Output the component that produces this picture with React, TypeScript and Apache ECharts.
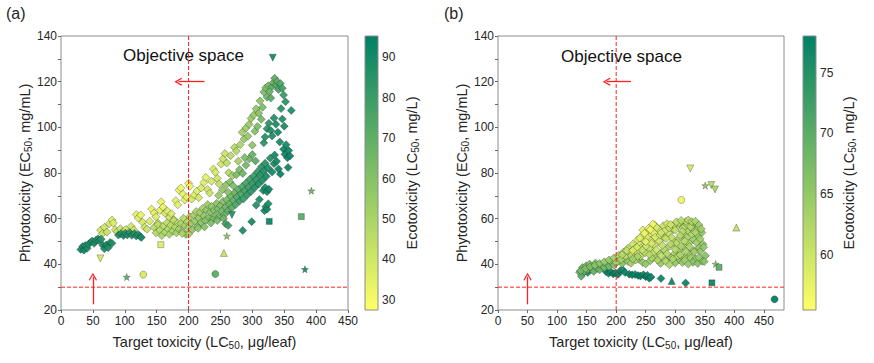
import React, { useEffect, useRef } from 'react';
import * as echarts from 'echarts';

// ---------- Panel (a) data: [target LC50, phyto EC50, eco LC50] ----------
const A_DARK_LEFT: number[][] = [
  [31,46.5,89],[34,47.8,90],[36,46.2,91],[38,48.3,88],[41,47,90],[43,48.8,87],[46,49.6,89],[49,50.2,88],
  [52,49.2,90],[55,50.6,87],[58,51.2,88],[60,50.3,89],[63,51,86],[66,48.2,90],[68,46.8,89],[71,48.5,91],
  [74,47.3,88],[77,49.6,90],[80,49.2,87],
];
const A_DARK_BAND: number[][] = [
  [90,52.8,88],[94,53.4,87],[98,52.6,89],[101,53.6,86],[104,52.9,88],[108,53.8,87],[111,52.7,89],
  [115,53.5,86],[118,52.4,88],[121,53.1,87],[124,52.2,89],[126,51.8,90],
];
const A_YELLOW_LEFT: number[][] = [
  [62,55,40],[65,53.5,42],[68,56.2,41],[72,54.1,43],[76,57.8,38],[80,59.4,36],[82,58.1,37],[85,55.2,40],
  [88,54.3,42],[93,55.6,41],[97,54.2,43],[102,55.3,40],[106,53.9,44],[110,56.6,39],[114,55.1,42],
  [118,61.8,35],[121,60.3,36],[125,61.6,34],[128,58.4,38],[131,56.2,41],[135,55.4,42],[139,58.9,37],
  [142,64.2,34],[146,62.5,35],[149,60.8,37],[152,58.1,40],[155,63.6,35],[157,67.4,33],[160,65.1,35],
  [163,62.4,38],[167,63.3,37],[170,60.5,40],[173,62.2,38],[177,59.6,41],[180,67.9,35],[183,66.1,36],
  [185,72.5,33],[188,73.4,32],[191,70.8,34],[194,68.2,36],[197,69.5,35],[200,75.5,32],[202,74.2,33],
];
const A_UPPER_BRANCH: number[][] = [
  [205,68.6,38],[209,70.4,37],[213,72.1,36],[216,69.2,40],[220,73.4,37],[224,75.8,36],[227,78.1,35],
  [230,72.8,40],[233,71.2,42],[236,76.4,39],[239,81.7,37],[242,80.3,38],[245,77.6,41],[248,75.2,44],
  [251,83.9,40],[254,86.2,41],[257,88.5,42],[260,84.4,45],[263,80.1,48],[266,87.6,46],[269,78.9,50],
  [272,91.2,47],[275,89.6,48],[278,85.2,51],[281,92.4,50],
];
const A_LIGHT_GREEN: number[][] = [
  [284,97.8,52],[287,94.9,54],[290,99.7,53],[293,96.1,56],[295,101.3,55],[298,103.9,54],[300,92.2,58],
  [302,105.4,56],[304,98.3,60],[306,108.1,57],[308,100.4,62],[310,106.2,60],[312,111.6,58],[314,103.5,64],
  [316,108.8,63],[247,70.2,55],[253,72.6,57],[259,74.8,58],[265,76.1,60],[270,74.4,62],[262,71.6,60],
  [275,79.2,62],[280,81.5,63],[285,79.8,66],[290,83.4,65],[295,86.2,66],[288,86.8,62],[300,88.1,68],
  [305,85.3,72],
];
const A_TOP: number[][] = [
  [318,115.5,62],[321,117.3,63],[323,113.2,66],[325,118.2,64],[327,115.6,68],[329,112.8,72],[331,117.9,70],
  [333,119.6,68],[335,121.5,70],[337,118.4,74],[339,120.1,72],[341,116.6,76],[344,119.2,74],[347,117.1,78],
  [349,114.2,80],
];
const A_DARK_RIGHT: number[][] = [
  [318,93.2,84],[320,95.8,86],[323,99.4,85],[326,101.8,84],[329,98.6,88],[331,96.2,87],[334,104.1,86],
  [337,101.3,88],[340,97.8,90],[343,93.6,89],[345,108.2,85],[347,103.6,87],[349,90.4,91],[351,88.2,92],
  [353,92.4,90],[355,86.7,93],[357,89.8,91],[359,87.5,92],[361,107.4,88],[350,100.5,89],[352,111.2,84],
  [356,82.4,92],[344,79.6,93],[341,81.8,92],[338,85.1,91],[335,87.9,90],
];
const A_MAIN_BAND: number[][] = [
  [146,56.2,46],[149,53.8,48],[152,57.4,45],[155,54.9,47],[158,52.6,50],[161,56.8,46],[163,54.1,49],
  [166,58.2,45],[168,55.5,48],[170,53.2,51],[172,57.1,47],[175,54.6,50],[177,59.2,45],[179,56.3,49],
  [181,53.8,52],[183,58.1,48],[185,55.4,51],[188,57.9,49],[190,54.4,53],[192,60.2,47],[194,56.9,51],
  [196,53.1,55],[198,58.6,50],[200,56.2,53],[202,60.8,50],[204,57.9,54],[206,55.2,57],[208,61.5,52],
  [210,58.8,56],[212,63.1,50],[214,56.6,58],[216,60.3,55],[218,62.7,53],[220,58.4,58],[222,64.5,52],
  [224,61.2,57],[226,59.1,60],[228,63.8,56],[230,66.2,54],[232,60.6,61],[234,62.9,59],[236,65.4,57],
  [238,59.8,63],[240,63.6,60],[242,61.3,63],[244,66.7,58],[246,64.2,62],[248,60.9,66],[250,65.8,61],
  [252,63.4,65],[254,67.6,60],[256,61.7,68],[258,65.1,66],[260,68.3,63],[262,63.5,70],[264,66.4,68],
  [266,69.9,65],[268,64.8,72],[270,68.1,70],[272,71.3,67],[274,66.2,75],[276,69.5,73],[278,72.8,71],
  [280,67.7,78],[282,70.9,76],[284,74.1,74],[286,68.6,80],[288,72.2,78],[290,75.6,76],[292,70.4,82],
  [294,73.8,80],[296,77.3,78],[298,71.9,84],[300,75.4,82],[302,78.7,80],[304,73.6,86],[306,77.1,84],
  [308,80.5,82],[310,75.2,87],[312,79.1,86],[314,82.6,84],[316,76.8,88],[318,80.9,87],[320,84.3,85],
  [322,78.6,89],[325,82.2,88],[328,86.5,86],[331,80.4,90],[334,84.1,89],
  [200,53.2,52],[215,55.8,58],[225,56.4,60],[235,58.1,62],[245,59.2,64],[255,60.1,67],[190,53.5,50],
];
const A_DARK_LOWER_RIGHT: number[][] = [
  [258,57.8,78],[262,57,80],[285,54.8,88],[299,58.7,90],[319,63.5,89],[321,65.2,90],[323,64.1,91],
  [325,66.5,88],[317,72.3,89],[320,73.6,90],[323,71.8,91],[326,72.9,92],[311,68.4,88],[306,65.9,86],
];
const A_TRI_DOWN: number[][] = [[332,130.5,90],[61.7,42.6,38],[268,61.6,86]];
const A_STAR: number[][] = [[103,34.4,70],[260,52.4,58],[392.5,72.2,66],[382.5,37.8,90]];
const A_CIRCLE: number[][] = [[129,35.5,38],[242,35.8,72]];
const A_SQUARE: number[][] = [[156.5,48.6,36],[326.5,58.8,92],[376.8,60.9,72]];
const A_TRI_UP: number[][] = [[255.4,45,42]];

// ---------- Panel (b) data ----------
const B_LEFT_GREEN: number[][] = [
  [138,36.5,69],[141,34.8,70],[143,38.6,68],[146,36.9,69],[149,39.4,67],[152,37.8,68],[155,40.1,67],
  [158,38.4,68],[162,36.9,69],[165,40.6,67],[168,38.2,68],[172,37.6,69],[176,39.4,68],[180,38.6,68],
  [184,40.2,67],[188,39.1,68],[192,40.9,66],[196,39.6,67],[205,41.5,65],[210,40.3,66],[215,42.6,64],
  [220,41.2,65],[230,43.5,63],[238,42.2,64],[245,40.8,65],
];
const B_RISING_1: number[][] = [
  [140,37.2,68],[148,38.1,67],[156,38.9,67],[164,39.6,66],[172,40.4,66],[180,41.1,65],[188,41.9,65],
  [196,42.8,64],[204,43.9,63],[212,45.3,62],[220,47,61],[228,48.8,60],[236,50.7,59],[244,52.6,58],
  [252,54.4,58],[260,56.2,57],[265,57.3,57],
];
const B_RISING_2: number[][] = [
  [200,40.8,64],[208,42.1,63],[216,43.6,62],[224,45.2,61],[232,46.9,60],[240,48.6,59],[248,50.4,59],
  [256,52.1,58],[264,53.8,58],[272,55.4,59],[280,56.9,60],[286,57.8,60],
];
const B_RISING_3: number[][] = [
  [225,40.5,64],[233,41.9,63],[241,43.5,62],[249,45.1,61],[257,46.8,61],[265,48.5,60],[273,50.2,60],
  [281,51.9,61],[289,53.6,61],[297,55.3,62],[305,56.9,62],[312,58.2,62],
];
const B_RISING_4: number[][] = [
  [250,40.2,65],[258,41.6,64],[266,43.1,63],[274,44.7,63],[282,46.3,62],[290,47.9,62],[298,49.6,62],
  [306,51.2,63],[314,52.9,63],[322,54.6,63],[330,56.3,63],[336,57.6,64],
];
const B_RISING_5: number[][] = [
  [275,40.4,65],[283,41.8,64],[291,43.2,64],[299,44.7,63],[307,46.2,63],[315,47.7,63],[323,49.3,63],
  [331,50.9,64],[339,52.5,64],[345,53.9,65],
  [300,40.6,65],[308,41.9,65],[316,43.2,64],[324,44.6,64],[332,46,64],[340,47.4,65],[347,48.8,65],
];
const B_FALLING: number[][] = [
  [268,56.2,59],[276,53.8,60],[284,51.3,61],[292,48.9,62],[300,46.5,62],[308,44.1,63],[316,41.8,64],[322,40.1,65],
  [292,57.4,60],[300,55,61],[308,52.6,62],[316,50.2,62],[324,47.8,63],[332,45.4,64],[340,43,65],[346,41.3,66],
  [318,58.8,62],[326,56.4,62],[334,54,63],[342,51.2,64],[348,47.5,65],[351,43.8,66],[349,41.2,66],
  [245,55,58],[252,51.8,59],[260,49.2,59],[268,46.4,60],[276,43.8,61],[284,41.3,62],[290,39.8,63],
];
const B_FILL: number[][] = [
  [210,44.2,62],[218,46,61],[226,44,62],[234,45.6,61],[242,47.2,60],[250,47.8,60],[258,50.5,59],
  [266,51.9,59],[274,52.8,60],[282,54.6,60],[290,55.9,61],[298,57.2,61],[306,58.1,62],[314,56.2,62],
  [320,57.4,62],[330,55.1,63],[338,55.8,64],[262,44.9,61],[270,41.9,63],[278,48.3,61],[286,44.6,62],
  [294,51.7,61],[302,49.3,62],[310,47.9,63],[318,45.6,63],[326,42.8,64],[334,42.4,65],[342,45.6,65],
  [312,54.4,62],[320,51.8,63],[328,53.2,63],[336,49.6,64],[296,42.4,63],[304,43.6,63],[312,40.8,65],
  [330,40.9,66],[338,40.4,66],[260,42.7,63],[236,43.4,63],[228,42.3,64],[256,44.3,62],[244,46.2,61],
];
const B_TOP_YELLOW: number[][] = [
  [302,58.6,61],[310,59.2,62],[322,59.4,62],[328,58.7,63],[334,58.9,63],[340,57.2,64],[344,55.5,64],
  [240,51.5,58],[248,53.6,57],[255,55.8,57],[262,57.6,57],[258,55.2,57],[250,49.9,58],[235,47.4,59],[228,46.1,59],
];
const B_DARK_BAND: number[][] = [
  [140,37.1,76],[144,36.2,77],[148,37.5,75],[152,36.4,76],[156,38.1,75],[183,36.8,77],[187,36.1,77],
  [191,36.6,77],[195,35.8,78],[199,36.3,77],[203,35.6,78],[207,37.2,77],[211,37.6,76],[215,36.4,77],
  [222,35.7,77],[227,35.4,78],[232,35.6,77],[237,35.1,78],[241,34.9,78],[246,35.4,77],[250,34.6,78],
  [253,35.2,77],[256,33.9,78],[259,34.4,77],[275.8,33.8,77],[317.5,31.8,77],
];
const B_TRI_DOWN: number[][] = [[325.4,82,59],[361,74.7,62],[367.2,72.8,63]];
const B_STAR: number[][] = [[350.8,74.5,65],[368.3,40.1,66]];
const B_CIRCLE: number[][] = [[310.2,68.2,57],[468,24.7,78]];
const B_SQUARE: number[][] = [[374,38.7,70],[362,31.9,77]];
const B_TRI_UP: number[][] = [[403.3,56.1,61],[293.9,32.7,77]];

// ---------- ticks / ranges / thresholds ----------
const X_TICKS = [0, 50, 100, 150, 200, 250, 300, 350, 400, 450];
const CB_TICKS_A = [30, 40, 50, 60, 70, 80, 90];
const CB_TICKS_B = [60, 65, 70, 75];
const CB_RANGE_A = [27.5, 95.3];
const CB_RANGE_B = [55.5, 78];
const Y_RANGE = [20, 140];
const X_MAX_A = 450;
const X_MAX_B = 484;
const THRESH_X = 200;
const THRESH_Y = 30;

const FONT = 'Liberation Sans, Arial, sans-serif';
const TXT = '#262626';
const COLORS = ['#ffff66', '#008066'];
const RED = '#ff2020';
const TRI_DOWN = 'path://M0,0 L10,0 L5,9 Z';
const STAR = 'path://M5,0 L6.2,3.6 L10,3.6 L6.9,5.9 L8.1,9.5 L5,7.3 L1.9,9.5 L3.1,5.9 L0,3.6 L3.8,3.6 Z';
const CHEVRON = 'path://M5,0 L10,7 L9,8 L5,2.4 L1,8 L0,7 Z';

const subRich = { s: { fontSize: 10, fontFamily: FONT, color: TXT, verticalAlign: 'bottom', lineHeight: 6 } };
const nameStyle = { fontSize: 14.5, fontFamily: FONT, color: TXT, lineHeight: 16, rich: subRich };

const GRID_A = { left: 61, top: 36, width: 287, height: 274 };
const CB_A = { left: 365, top: 36, width: 13, height: 274 };
const GRID_B = { left: 498, top: 36, width: 286, height: 274 };
const CB_B = { left: 803, top: 36, width: 13, height: 274 };

export default function App() {
  const ref = useRef<HTMLDivElement>(null);
  useEffect(() => {
    if (!ref.current) return;
    const chart = echarts.init(ref.current, null, { renderer: 'svg' });
    const markerStyle = { borderColor: 'rgba(30,30,30,0.55)', borderWidth: 0.6, opacity: 0.95 };

    const scat = (data: number[][], symbol: string, size: number, ax: number) => ({
      type: 'scatter', xAxisIndex: ax, yAxisIndex: ax, data, symbol, symbolSize: size,
      itemStyle: markerStyle, silent: true,
    });

    const aSeries = [
      scat(A_YELLOW_LEFT, 'diamond', 8, 0), scat(A_UPPER_BRANCH, 'diamond', 8, 0),
      scat(A_MAIN_BAND, 'diamond', 8, 0), scat(A_LIGHT_GREEN, 'diamond', 8, 0),
      scat(A_TOP, 'diamond', 8, 0), scat(A_DARK_RIGHT, 'diamond', 8, 0),
      scat(A_DARK_LOWER_RIGHT, 'diamond', 8, 0), scat(A_DARK_LEFT, 'diamond', 8, 0),
      scat(A_DARK_BAND, 'diamond', 8, 0),
      scat(A_TRI_DOWN, TRI_DOWN, 7, 0), scat(A_STAR, STAR, 7, 0), scat(A_CIRCLE, 'circle', 7, 0),
      scat(A_SQUARE, 'rect', 6, 0), scat(A_TRI_UP, 'triangle', 7, 0),
    ];
    const bSeries = [
      scat(B_DARK_BAND, 'diamond', 8, 2),
      scat(B_LEFT_GREEN, 'diamond', 8, 2), scat(B_RISING_1, 'diamond', 8, 2), scat(B_RISING_2, 'diamond', 8, 2),
      scat(B_RISING_3, 'diamond', 8, 2), scat(B_RISING_4, 'diamond', 8, 2), scat(B_RISING_5, 'diamond', 8, 2),
      scat(B_FILL, 'diamond', 8, 2), scat(B_FALLING, 'diamond', 8, 2), scat(B_TOP_YELLOW, 'diamond', 8, 2),
      scat(B_TRI_DOWN, TRI_DOWN, 7, 2), scat(B_STAR, STAR, 7, 2), scat(B_CIRCLE, 'circle', 7, 2),
      scat(B_SQUARE, 'rect', 6, 2), scat(B_TRI_UP, 'triangle', 7, 2),
    ];
    const aIdx = aSeries.map((_, i) => i);
    const bIdx = bSeries.map((_, i) => i + aSeries.length);

    const dashLine = (ax: number, data: number[][]) => ({
      type: 'line', xAxisIndex: ax, yAxisIndex: ax, data, symbol: 'none', silent: true,
      z: 5, lineStyle: { color: RED, type: [4, 2], width: 1 }, itemStyle: { color: RED },
    });
    const guides = (ax: number, xMax: number) => [
      dashLine(ax, [[THRESH_X, Y_RANGE[0]], [THRESH_X, Y_RANGE[1]]]),
      dashLine(ax, [[0, THRESH_Y], [xMax, THRESH_Y]]),
    ];
    const arrows = (ax: number) => ({
      type: 'scatter', xAxisIndex: ax, yAxisIndex: ax, data: [], silent: true,
      itemStyle: { color: RED },
      markLine: {
        silent: true, animation: false, symbol: ['none', CHEVRON], symbolSize: [8, 8],
        label: { show: false }, lineStyle: { color: RED, type: 'solid', width: 1.3 },
        data: [
          [{ coord: [225, 120] }, { coord: [184, 120] }],
          [{ coord: [50, 22.5] }, { coord: [50, 34.6] }],
        ],
      },
    });

    const plotY = (grid: number) => ({
      gridIndex: grid, type: 'value', min: Y_RANGE[0], max: Y_RANGE[1], interval: 20,
      axisLine: { show: false },
      axisTick: { show: true, length: 3, lineStyle: { color: '#666' } },
      minorTick: { show: true, splitNumber: 2, length: 3, lineStyle: { color: '#666' } },
      splitLine: { show: false }, minorSplitLine: { show: false },
      axisLabel: { fontSize: 12, fontFamily: FONT, color: TXT, margin: 4 },
      name: 'Phytotoxicity (EC{s|50}, mg/mL)', nameLocation: 'middle', nameGap: 26, nameRotate: 90,
      nameTextStyle: nameStyle,
    });
    const plotX = (grid: number, max: number) => ({
      gridIndex: grid, type: 'value', min: 0, max,
      axisLine: { show: false },
      axisTick: { show: true, length: 3, customValues: X_TICKS, lineStyle: { color: '#666' } },
      splitLine: { show: false },
      axisLabel: { fontSize: 12, fontFamily: FONT, color: TXT, margin: 5, customValues: X_TICKS },
      name: 'Target toxicity (LC{s|50}, μg/leaf)', nameLocation: 'middle', nameGap: 24,
      nameTextStyle: nameStyle,
    });
    const cbX = (grid: number) => ({ gridIndex: grid, type: 'value', min: 0, max: 1, show: false });
    const cbY = (grid: number, range: number[], ticks: number[], gap: number) => ({
      gridIndex: grid, type: 'value', min: range[0], max: range[1], position: 'right',
      axisLine: { show: false },
      axisTick: { show: true, length: 3, customValues: ticks, lineStyle: { color: '#666' } },
      splitLine: { show: false },
      axisLabel: { fontSize: 12, fontFamily: FONT, color: TXT, margin: 4, customValues: ticks },
      name: 'Ecotoxicity (LC{s|50}, mg/L)', nameLocation: 'middle', nameGap: gap, nameRotate: 90,
      nameTextStyle: nameStyle,
    });

    const grad = () => new echarts.graphic.LinearGradient(0, 1, 0, 0, [
      { offset: 0, color: COLORS[0] }, { offset: 1, color: COLORS[1] },
    ]);
    const cbRect = (g: any) => ({
      type: 'rect', shape: { x: g.left, y: g.top, width: g.width, height: g.height },
      style: { fill: grad(), stroke: '#8c8c8c', lineWidth: 1 }, z: 10, silent: true,
    });

    const gridCommon = { show: true, borderColor: '#8c8c8c', borderWidth: 1, containLabel: false };

    chart.setOption({
      animation: false,
      backgroundColor: '#ffffff',
      grid: [
        { ...GRID_A, ...gridCommon },
        { ...CB_A, show: false },
        { ...GRID_B, ...gridCommon },
        { ...CB_B, show: false },
      ],
      xAxis: [plotX(0, X_MAX_A), cbX(1), plotX(2, X_MAX_B), cbX(3)],
      yAxis: [plotY(0), cbY(1, CB_RANGE_A, CB_TICKS_A, 26), plotY(2), cbY(3, CB_RANGE_B, CB_TICKS_B, 25)],
      visualMap: [
        { type: 'continuous', show: false, seriesIndex: aIdx, dimension: 2, min: CB_RANGE_A[0], max: CB_RANGE_A[1], inRange: { color: COLORS } },
        { type: 'continuous', show: false, seriesIndex: bIdx, dimension: 2, min: CB_RANGE_B[0], max: CB_RANGE_B[1], inRange: { color: COLORS } },
      ],
      series: [...aSeries, ...bSeries, ...guides(0, X_MAX_A), arrows(0), ...guides(2, X_MAX_B), arrows(2)],
      graphic: [
        cbRect(CB_A), cbRect(CB_B),
        { type: 'text', left: 6, top: 5, style: { text: '(a)', fontSize: 16, fontFamily: FONT, fill: TXT } },
        { type: 'text', left: 444, top: 5, style: { text: '(b)', fontSize: 16, fontFamily: FONT, fill: TXT } },
        { type: 'text', left: 123, top: 47, style: { text: 'Objective space', fontSize: 17, fontFamily: FONT, fill: '#111' } },
        { type: 'text', left: 561, top: 48, style: { text: 'Objective space', fontSize: 17, fontFamily: FONT, fill: '#111' } },
      ],
    });
    return () => chart.dispose();
  }, []);
  return (
    <div
      ref={ref}
      style={{ position: 'fixed', left: 0, top: 0, width: 874, height: 363, background: '#fff' }}
    />
  );
}
